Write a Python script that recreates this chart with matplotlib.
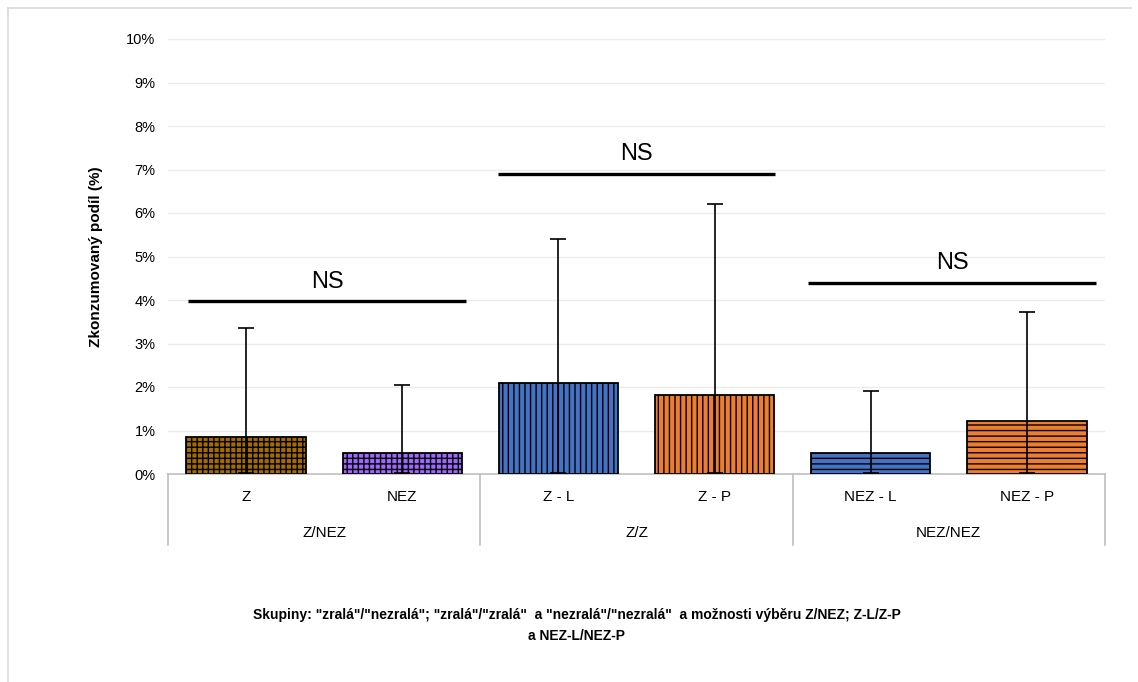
import matplotlib.pyplot as plt
from matplotlib.lines import Line2D

plt.rcParams['font.family'] = ['Liberation Sans', 'DejaVu Sans']
plt.rcParams['hatch.linewidth'] = 1.0

# data
categories = ['Z', 'NEZ', 'Z - L', 'Z - P', 'NEZ - L', 'NEZ - P']
groups = ['Z/NEZ', 'Z/Z', 'NEZ/NEZ']
means = [0.85, 0.48, 2.09, 1.82, 0.48, 1.22]
err_upper = [2.50, 1.57, 3.31, 4.38, 1.43, 2.50]
err_lower = [0.82, 0.45, 2.06, 1.79, 0.45, 1.19]
colors = ['#A36B00', '#A066FF', '#4472C4', '#ED7D31', '#4472C4', '#ED7D31']
hatches = ['+++', '+++', '|||', '|||', '---', '---']
ns_levels = [3.97, 6.9, 4.39]
ns_spans = [(-0.37, 1.41), (1.61, 3.39), (3.6, 5.44)]

fig = plt.figure(figsize=(11.38, 6.82), dpi=100)
ax = fig.add_axes([168 / 1138, 1 - 474 / 682, 937 / 1138, 435 / 682])

x = list(range(len(categories)))
ax.bar(x, means, width=0.765, color=colors, edgecolor='black', linewidth=1.3,
       hatch=hatches, zorder=3)
ax.errorbar(x, means, yerr=[err_lower, err_upper], fmt='none', ecolor='black',
            elinewidth=1.2, capsize=6, capthick=1.2, zorder=4)

for lvl, (a, b) in zip(ns_levels, ns_spans):
    ax.plot([a, b], [lvl, lvl], color='black', linewidth=2.4, zorder=5,
            solid_capstyle='butt')
    ax.text((a + b) / 2, lvl + 0.2, 'NS', ha='center', va='bottom', fontsize=17)

ax.set_xlim(-0.5, 5.5)
ax.set_ylim(0, 10)
ax.set_yticks(range(0, 11))
ax.set_yticklabels([f'{i}%' for i in range(0, 11)], fontsize=10.5)
ax.yaxis.grid(True, color='#EBEBEB', linewidth=1.0, zorder=0)
ax.tick_params(axis='y', length=0, pad=9)
ax.tick_params(axis='x', length=0, labelbottom=False)
for s in ['top', 'right', 'left']:
    ax.spines[s].set_visible(False)
ax.spines['bottom'].set_color('#BFBFBF')
ax.spines['bottom'].set_linewidth(1.2)

# category and group labels below the axis
tr = ax.get_xaxis_transform()
for i, c in enumerate(categories):
    ax.text(i, -0.053, c, transform=tr, ha='center', va='center', fontsize=11)
for g, name in enumerate(groups):
    ax.text(2 * g + 0.5, -0.136, name, transform=tr, ha='center', va='center',
            fontsize=11)
for b in [-0.5, 1.5, 3.5, 5.5]:
    ax.plot([b, b], [0, -0.163], transform=tr, color='#BFBFBF', linewidth=1.2,
            clip_on=False)

ax.set_ylabel('Zkonzumovaný podíl (%)', fontsize=11, fontweight='bold')
ax.yaxis.set_label_coords((103 - 168) / 937, 0.5)

fig.text(577 / 1138, 1 - 615 / 682, 'Skupiny: "zralá"/"nezralá"; "zralá"/"zralá"  a "nezralá"/"nezralá"  a možnosti výběru Z/NEZ; Z-L/Z-P',
         ha='center', va='center', fontsize=10, fontweight='bold')
fig.text(577 / 1138, 1 - 636 / 682, 'a NEZ-L/NEZ-P', ha='center', va='center',
         fontsize=10, fontweight='bold')

# chart area border
fig.add_artist(Line2D([8 / 1138, 1131 / 1138], [1 - 8 / 682, 1 - 8 / 682],
                      color='#D9D9D9', linewidth=1.2))
fig.add_artist(Line2D([8 / 1138, 8 / 1138], [1 - 8 / 682, 0],
                      color='#D9D9D9', linewidth=1.2))

fig.savefig('out.png', dpi=100)
